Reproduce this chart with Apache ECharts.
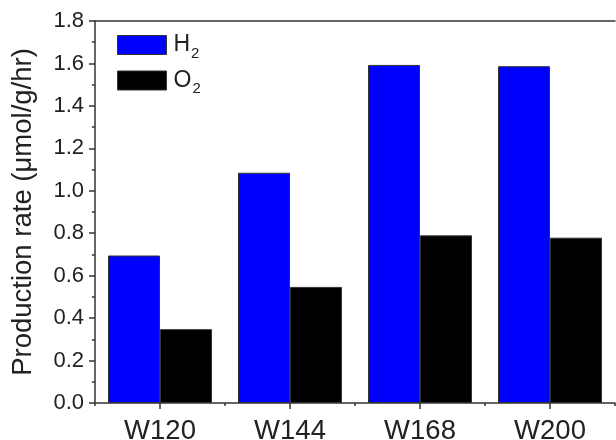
<!DOCTYPE html>
<html>
<head>
<meta charset="utf-8">
<script src="https://cdn.jsdelivr.net/npm/echarts@6/dist/echarts.min.js"></script>
<style>
html,body{margin:0;padding:0;background:#fff;}
#chart{width:616px;height:440px;}
</style>
</head>
<body>
<div id="chart"></div>
<script>
const categories = ['W120', 'W144', 'W168', 'W200'];
const h2Values = [0.695, 1.085, 1.593, 1.587];
const o2Values = [0.348, 0.547, 0.790, 0.779];
const yTicks = [0, 0.2, 0.4, 0.6, 0.8, 1.0, 1.2, 1.4, 1.6, 1.8];

const FONT = '"Liberation Sans", Arial, sans-serif';
const chart = echarts.init(document.getElementById('chart'), null, {renderer: 'canvas'});

const legendRich = {
  m: {fontSize: 23, fontFamily: FONT, color: '#222', lineHeight: 32, verticalAlign: 'middle', padding: [0, 0, 0, 2]},
  s: {fontSize: 15, fontFamily: FONT, color: '#222', lineHeight: 4, verticalAlign: 'bottom', padding: [0, 0, 0, 1]}
};

chart.setOption({
  animation: false,
  backgroundColor: '#fff',
  grid: {left: 95, right: 1, top: 21, bottom: 37, containLabel: false, outerBoundsMode: 'none'},
  legend: {
    orient: 'vertical',
    left: 112,
    top: 28.5,
    itemWidth: 49,
    itemHeight: 19,
    itemGap: 8,
    icon: 'rect',
    data: ['H2', 'O2'],
    formatter: function (name) {
      return '{m|' + name.charAt(0) + '}{s|' + name.slice(1) + '}';
    },
    textStyle: {rich: legendRich, padding: [0, 0, 0, 0]},
    itemStyle: {borderColor: '#333', borderWidth: 1}
  },
  xAxis: [
    {
      type: 'category',
      data: categories,
      position: 'bottom',
      axisLine: {show: true, lineStyle: {color: '#333', width: 1.5}},
      axisTick: {show: true, alignWithLabel: true, inside: false, length: 6, lineStyle: {color: '#333', width: 1.5}},
      axisLabel: {fontSize: 27.5, fontFamily: FONT, color: '#222', margin: 14},
      splitLine: {show: false}
    },
    {
      type: 'value',
      min: 0, max: 4, interval: 1,
      position: 'bottom',
      axisLine: {show: false},
      axisTick: {show: true, inside: false, length: 3, lineStyle: {color: '#333', width: 1.5}},
      axisLabel: {show: false},
      splitLine: {show: false}
    },
    {
      type: 'category',
      data: categories,
      position: 'top',
      axisLine: {show: true, lineStyle: {color: '#333', width: 1.5}},
      axisTick: {show: false},
      axisLabel: {show: false},
      splitLine: {show: false}
    }
  ],
  yAxis: {
    type: 'value',
    min: 0, max: 1.8, interval: 0.2,
    name: 'Production rate (\u03bcmol/g/hr)',
    nameLocation: 'middle',
    nameGap: 58,
    nameTextStyle: {fontSize: 27.5, fontFamily: FONT, color: '#222'},
    axisLine: {show: true, lineStyle: {color: '#333', width: 1.5}},
    axisTick: {show: true, inside: false, length: 6, lineStyle: {color: '#333', width: 1.5}},
    minorTick: {show: true, splitNumber: 2, length: 3, lineStyle: {color: '#333', width: 1.5}},
    axisLabel: {
      fontSize: 22, fontFamily: FONT, color: '#222', margin: 11,
      formatter: function (v) {
        const t = yTicks.find(x => Math.abs(x - v) < 1e-6);
        return (t !== undefined ? t : v).toFixed(1);
      }
    },
    splitLine: {show: false}
  },
  series: [
    {
      name: 'H2', type: 'bar', xAxisIndex: 0, data: h2Values,
      barWidth: '40%', barGap: '0%',
      itemStyle: {color: '#0000ff', borderColor: '#333', borderWidth: 1}
    },
    {
      name: 'O2', type: 'bar', xAxisIndex: 0, data: o2Values,
      barWidth: '40%', barGap: '0%',
      itemStyle: {color: '#000000', borderColor: '#333', borderWidth: 1}
    }
  ]
});
</script>
</body>
</html>
